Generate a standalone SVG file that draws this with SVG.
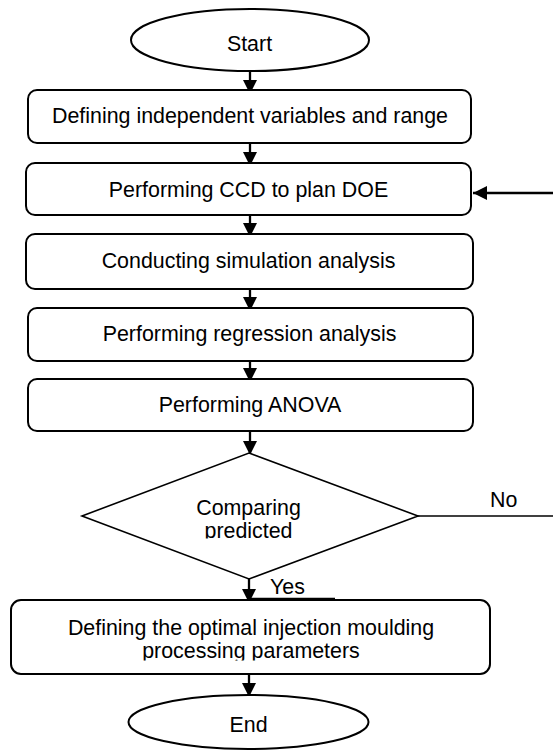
<svg xmlns="http://www.w3.org/2000/svg" width="553" height="750" viewBox="0 0 553 750">
  <style>
    .shape { fill: #ffffff; stroke: #000000; stroke-width: 2; }
    .dia { fill: #ffffff; stroke: #000000; stroke-width: 1.6; }
    .lbl { font-family: "Liberation Sans", Arial, sans-serif; font-size: 21.4px; fill: #000000; text-anchor: middle; }
    .lblL { font-family: "Liberation Sans", Arial, sans-serif; font-size: 21.4px; fill: #000000; }
    .conn { stroke: #000000; stroke-width: 2.3; fill: none; }
    .thin { stroke: #000000; stroke-width: 1.6; fill: none; }
  </style>
  <defs>
    <marker id="arrow" markerWidth="14" markerHeight="14" viewBox="0 0 14 14" refX="14" refY="7" orient="auto" markerUnits="userSpaceOnUse">
      <path d="M0,0 L14,7 L0,14 Z" fill="#000000"/>
    </marker>
    <clipPath id="clipDia"><rect x="80" y="440" width="340" height="98.5"/></clipPath>
    <clipPath id="clipBox6"><rect x="10" y="590" width="480" height="70.5"/></clipPath>
  </defs>
  <rect width="553" height="750" fill="#ffffff"/>

  <g id="connectors">
    <line class="conn" x1="250" y1="71" x2="250" y2="94" marker-end="url(#arrow)"/>
    <line class="conn" x1="250" y1="143" x2="250" y2="166" marker-end="url(#arrow)"/>
    <line class="conn" x1="250" y1="215" x2="250" y2="237" marker-end="url(#arrow)"/>
    <line class="conn" x1="250" y1="289" x2="250" y2="311" marker-end="url(#arrow)"/>
    <line class="conn" x1="250" y1="361" x2="250" y2="382" marker-end="url(#arrow)"/>
    <line class="conn" x1="250" y1="431" x2="250" y2="455" marker-end="url(#arrow)"/>
    <line class="conn" x1="249" y1="579" x2="249" y2="603" marker-end="url(#arrow)"/>
    <line class="conn" x1="249" y1="674" x2="249" y2="697" marker-end="url(#arrow)"/>
    <line class="thin" x1="418" y1="516" x2="553" y2="516"/>
    <line class="conn" x1="553" y1="193" x2="473" y2="193" marker-end="url(#arrow)"/>
    <line x1="249" y1="599" x2="335" y2="599" stroke="#000000" stroke-width="2.5"/>
    <text class="lblL" x="490" y="507">No</text>
    <text class="lblL" x="270" y="594">Yes</text>
  </g>

  <g id="start">
    <ellipse class="shape" cx="250" cy="40" rx="119" ry="31"/>
    <text class="lbl" x="249.5" y="51">Start</text>
  </g>

  <g id="define-variables">
    <rect class="shape" x="28" y="90" width="443" height="53" rx="9"/>
    <text class="lbl" x="250" y="123">Defining independent variables and range</text>
  </g>

  <g id="ccd-doe">
    <rect class="shape" x="26" y="163" width="445" height="52" rx="9"/>
    <text class="lbl" x="248.5" y="197">Performing CCD to plan DOE</text>
  </g>

  <g id="simulation">
    <rect class="shape" x="26" y="234" width="447" height="55" rx="9"/>
    <text class="lbl" x="248.5" y="268">Conducting simulation analysis</text>
  </g>

  <g id="regression">
    <rect class="shape" x="28" y="308" width="445" height="53" rx="9"/>
    <text class="lbl" x="249.5" y="341">Performing regression analysis</text>
  </g>

  <g id="anova">
    <rect class="shape" x="28" y="379" width="445" height="52" rx="9"/>
    <text class="lbl" x="250" y="412">Performing ANOVA</text>
  </g>

  <g id="compare">
    <polygon class="dia" points="249,453 418,516 249,579 82,516"/>
    <g clip-path="url(#clipDia)">
      <text class="lbl" x="248.5" y="515">Comparing</text>
      <text class="lbl" x="248.5" y="538">predicted</text>
    </g>
  </g>

  <g id="optimal-params">
    <rect class="shape" x="11" y="600" width="479" height="74" rx="10"/>
    <g clip-path="url(#clipBox6)">
      <text class="lbl" x="251" y="635">Defining the optimal injection moulding</text>
      <text class="lbl" x="251" y="658">processing parameters</text>
    </g>
  </g>

  <g id="end">
    <ellipse class="shape" cx="248.5" cy="722" rx="120" ry="27"/>
    <text class="lbl" x="248.5" y="732">End</text>
  </g>
</svg>
